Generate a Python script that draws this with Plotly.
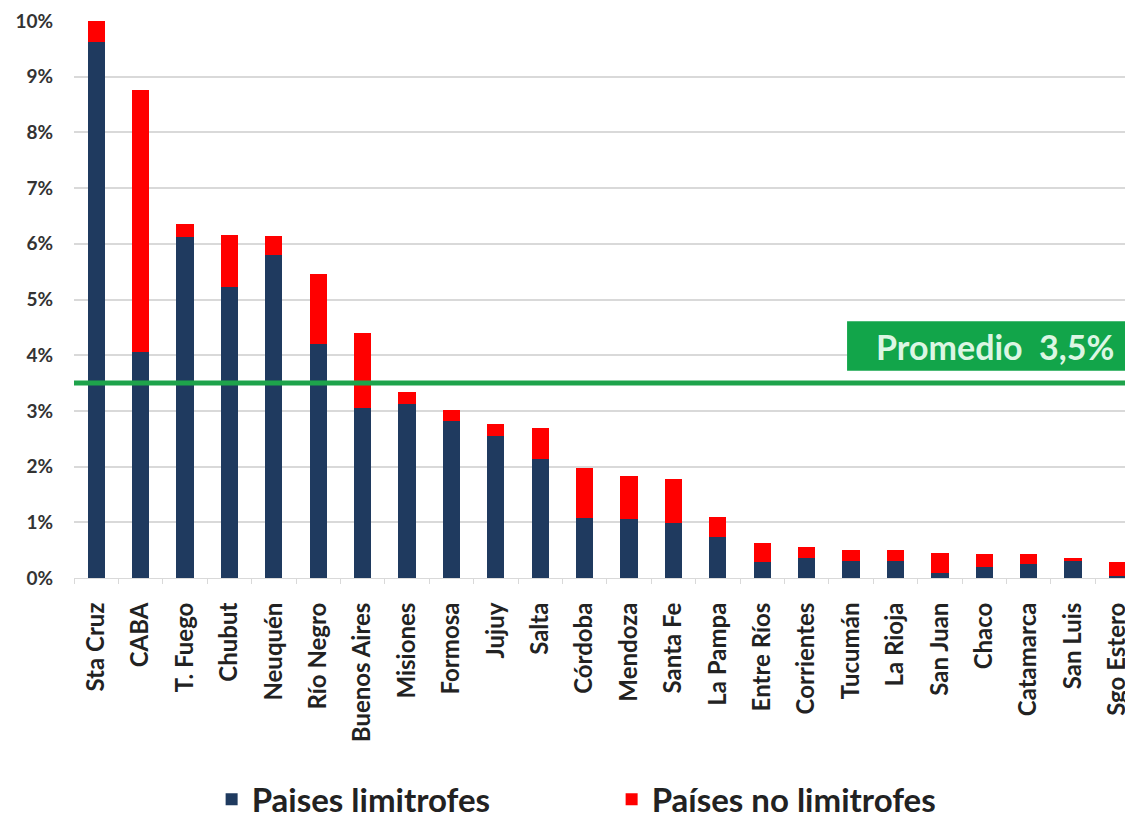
import plotly.graph_objects as go

provincias = ["Sta Cruz", "CABA", "T. Fuego", "Chubut", "Neuquén", "Río Negro", "Buenos Aires",
              "Misiones", "Formosa", "Jujuy", "Salta", "Córdoba", "Mendoza", "Santa Fe",
              "La Pampa", "Entre Ríos", "Corrientes", "Tucumán", "La Rioja", "San Juan",
              "Chaco", "Catamarca", "San Luis", "Sgo Estero"]
limitrofes = [9.63, 4.06, 6.12, 5.22, 5.80, 4.20, 3.05, 3.12, 2.82, 2.55, 2.14, 1.08, 1.06, 0.99,
              0.74, 0.29, 0.36, 0.30, 0.31, 0.09, 0.20, 0.25, 0.30, 0.04]
totales = [10.0, 8.76, 6.36, 6.16, 6.14, 5.46, 4.40, 3.34, 3.02, 2.76, 2.69, 1.97, 1.83, 1.78,
           1.10, 0.62, 0.56, 0.50, 0.50, 0.45, 0.43, 0.43, 0.36, 0.28]
no_limitrofes = [round(t - l, 2) for t, l in zip(totales, limitrofes)]
promedio = 3.5
y_ticks = [0, 1, 2, 3, 4, 5, 6, 7, 8, 9, 10]
y_labels = [f"{v}%" for v in y_ticks]

FONT = "Lato"
fig = go.Figure()
fig.add_trace(go.Bar(x=provincias, y=limitrofes, name="Paises limitrofes",
                     marker=dict(color="#1f3a5f", line=dict(width=0))))
fig.add_trace(go.Bar(x=provincias, y=no_limitrofes, name="Países no limitrofes",
                     marker=dict(color="#ff0000", line=dict(width=0))))

fig.add_shape(type="line", xref="paper", yref="y", x0=0, x1=1, y0=promedio, y1=promedio,
              line=dict(color="#1ea34b", width=5), layer="above")
fig.add_shape(type="rect", xref="paper", yref="y", x0=0.73, x1=1.0, y0=3.72, y1=4.61,
              fillcolor="#12a54a", line=dict(width=0), layer="above")
fig.add_annotation(xref="paper", yref="y", x=0.87, y=4.16, text="Promedio  3,5%",
                   showarrow=False, font=dict(family=FONT, size=34, color="#dcf6e3", weight="bold"),
                   xanchor="center", yanchor="middle")

# the page body has an 8px default margin, so the figure is 8px smaller on each axis
fig.update_layout(
    barmode="stack",
    bargap=0.61,
    width=1125, height=814,
    margin=dict(l=66, r=0, t=13, b=244),
    plot_bgcolor="white", paper_bgcolor="white",
    font=dict(family=FONT, color="#333333"),
    legend=dict(orientation="h", xref="container", x=0.181, xanchor="left",
                yref="container", y=0.028, yanchor="middle",
                font=dict(family=FONT, size=33, color="#222222", weight="bold"),
                itemwidth=30, traceorder="normal", entrywidth=355),
    showlegend=True,
)
fig.update_yaxes(range=[0, 10], tickvals=y_ticks, ticktext=y_labels, automargin=False,
                 showgrid=True, gridcolor="#d9d9d9", gridwidth=2,
                 tickfont=dict(family=FONT, size=19, color="#333333", weight="bold"),
                 zeroline=False, showline=False, ticks="", ticklabelstandoff=20)
fig.update_xaxes(range=[-0.5, 23.35], tickangle=-90, automargin=False,
                 tickfont=dict(family=FONT, size=24, color="#222222", weight="bold"),
                 showline=True, linecolor="#d9d9d9", linewidth=1,
                 ticks="outside", tickson="boundaries", ticklen=5, tickcolor="#d9d9d9",
                 ticklabelstandoff=14, ticklabeloverflow="allow")

fig.write_html("out.html")
